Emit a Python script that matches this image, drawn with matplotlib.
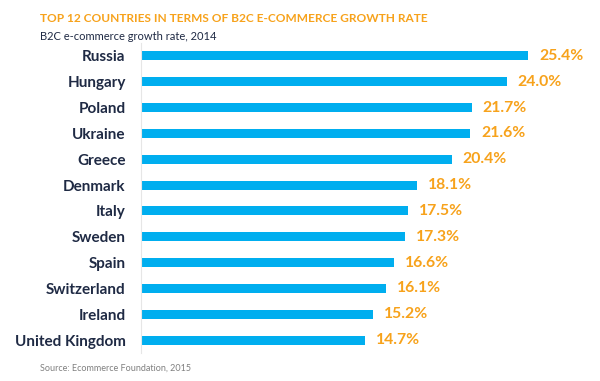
import matplotlib.pyplot as plt
import numpy as np

countries = ['Russia', 'Hungary', 'Poland', 'Ukraine', 'Greece', 'Denmark',
             'Italy', 'Sweden', 'Spain', 'Switzerland', 'Ireland', 'United Kingdom']
growth = [25.4, 24.0, 21.7, 21.6, 20.4, 18.1, 17.5, 17.3, 16.6, 16.1, 15.2, 14.7]

plt.rcParams['font.family'] = ['Lato', 'DejaVu Sans']

blue = '#00AEEF'
orange = '#F7A21B'
navy = '#1F2A44'

fig = plt.figure(figsize=(6, 3.81), dpi=100)
ax = fig.add_axes([141 / 600, 0.0735, (590 - 141) / 600, 0.887 - 0.0735])

y = np.arange(len(countries))
ax.barh(y, growth, height=0.35, color=blue)
ax.set_ylim(len(countries) - 0.5, -0.5)
ax.set_xlim(0, (590 - 141) / 15.24)

for i, v in enumerate(growth):
    ax.text(v + 0.72, i, f'{v:.1f}%', va='center', ha='left',
            color=orange, fontsize=11.3, fontweight='bold')

ax.set_yticks(y)
ax.set_yticklabels(countries, fontsize=11, fontweight='bold', color=navy)
ax.tick_params(axis='y', length=0, pad=11)
ax.set_xticks([])
for s in ['top', 'right', 'bottom']:
    ax.spines[s].set_visible(False)
ax.spines['left'].set_color('#E6E6E6')
ax.spines['left'].set_linewidth(0.8)

fig.text(40 / 600, 1 - 19 / 381, 'TOP 12 COUNTRIES IN TERMS OF B2C E-COMMERCE GROWTH RATE',
         color=orange, fontsize=8.6, fontweight='bold', va='center', ha='left')
fig.text(40 / 600, 1 - 36 / 381, 'B2C e-commerce growth rate, 2014',
         color=navy, fontsize=8, va='center', ha='left')
fig.text(40 / 600, 1 - 368 / 381, 'Source: Ecommerce Foundation, 2015',
         color='#808080', fontsize=6.5, va='center', ha='left')

plt.savefig('out.png', dpi=100)
